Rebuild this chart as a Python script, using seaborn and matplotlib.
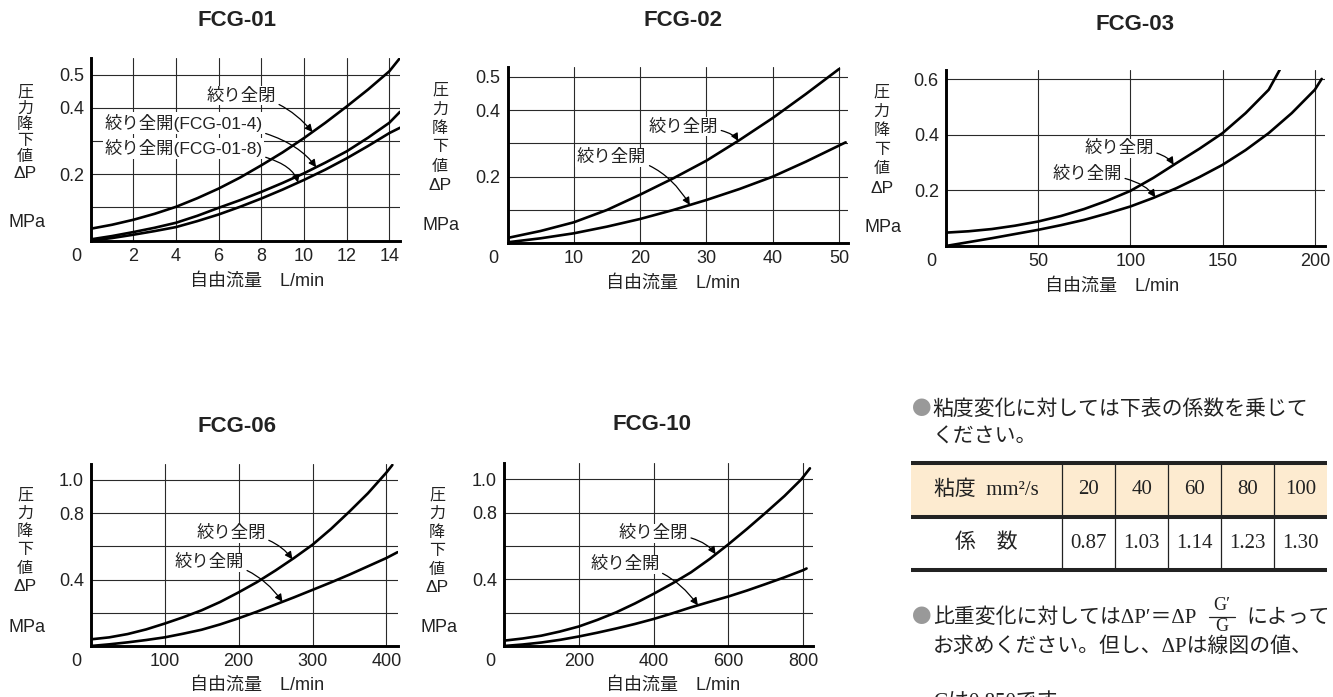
import matplotlib
matplotlib.use("Agg")
import matplotlib.pyplot as plt
import seaborn as sns
from matplotlib.patches import Rectangle
from matplotlib.lines import Line2D

# ---------------- data ----------------
# FCG-01  (flow L/min, pressure drop MPa)
fcg01_flow = [0, 1, 2, 3, 4, 5, 6, 7, 8, 9, 10, 11, 12, 13, 14, 14.5]
fcg01_closed = [0.036, 0.048, 0.063, 0.081, 0.102, 0.128, 0.157, 0.190, 0.227,
                0.266, 0.309, 0.355, 0.404, 0.455, 0.510, 0.550]
fcg01_open4 = [0.004, 0.014, 0.026, 0.039, 0.054, 0.075, 0.099, 0.122, 0.147,
               0.174, 0.203, 0.235, 0.269, 0.310, 0.355, 0.388]
fcg01_open8 = [0.000, 0.008, 0.018, 0.029, 0.041, 0.059, 0.079, 0.102, 0.127,
               0.154, 0.183, 0.214, 0.248, 0.285, 0.324, 0.340]
fcg01_xticks = [2, 4, 6, 8, 10, 12, 14]
fcg01_yticks = [0.1, 0.2, 0.3, 0.4, 0.5]
fcg01_ylabels = ["", "0.2", "", "0.4", "0.5"]

# FCG-02
fcg02_flow_closed = [0, 5, 10, 15, 20, 25, 30, 35, 40, 45, 50]
fcg02_closed = [0.016, 0.037, 0.063, 0.100, 0.146, 0.195, 0.248, 0.310, 0.376, 0.448, 0.523]
fcg02_flow_open = [0, 5, 10, 15, 20, 25, 30, 35, 40, 45, 51]
fcg02_open = [0.003, 0.015, 0.030, 0.050, 0.073, 0.100, 0.130, 0.163, 0.200, 0.245, 0.303]
fcg02_xticks = [10, 20, 30, 40, 50]
fcg02_yticks = [0.1, 0.2, 0.3, 0.4, 0.5]
fcg02_ylabels = ["", "0.2", "", "0.4", "0.5"]

# FCG-03
fcg03_flow_closed = [0, 12.5, 25, 37.5, 50, 62.5, 75, 87.5, 100, 112.5, 125,
                     137.5, 150, 162.5, 175, 181]
fcg03_closed = [0.048, 0.053, 0.061, 0.073, 0.088, 0.108, 0.133, 0.163, 0.198,
                0.245, 0.298, 0.350, 0.406, 0.478, 0.562, 0.634]
fcg03_flow_open = [0, 12.5, 25, 37.5, 50, 62.5, 75, 87.5, 100, 112.5, 125,
                   137.5, 150, 162.5, 175, 187.5, 200, 203.7]
fcg03_open = [0.000, 0.014, 0.028, 0.043, 0.058, 0.075, 0.094, 0.117, 0.142,
              0.173, 0.208, 0.248, 0.292, 0.345, 0.406, 0.478, 0.562, 0.601]
fcg03_xticks = [50, 100, 150, 200]
fcg03_yticks = [0.2, 0.4, 0.6]
fcg03_ylabels = ["0.2", "0.4", "0.6"]

# FCG-06
fcg06_flow_closed = [0, 25, 50, 75, 100, 125, 150, 175, 200, 225, 250, 275,
                     300, 325, 350, 375, 400, 408]
fcg06_closed = [0.040, 0.052, 0.072, 0.100, 0.135, 0.173, 0.215, 0.265, 0.323,
                0.385, 0.455, 0.530, 0.610, 0.705, 0.810, 0.920, 1.045, 1.090]
fcg06_flow_open = [0, 25, 50, 75, 100, 125, 150, 175, 200, 225, 250, 275,
                   300, 325, 350, 375, 400, 415]
fcg06_open = [0.000, 0.010, 0.022, 0.036, 0.052, 0.074, 0.098, 0.130, 0.167,
              0.207, 0.250, 0.293, 0.338, 0.383, 0.430, 0.480, 0.530, 0.565]
fcg06_xticks = [100, 200, 300, 400]
fcg06_yticks = [0.2, 0.4, 0.6, 0.8, 1.0]
fcg06_ylabels = ["", "0.4", "", "0.8", "1.0"]

# FCG-10
fcg10_flow_closed = [0, 50, 100, 150, 200, 250, 300, 350, 400, 450, 500, 550,
                     600, 650, 700, 750, 795, 818]
fcg10_closed = [0.032, 0.045, 0.062, 0.087, 0.117, 0.157, 0.202, 0.255, 0.313,
                0.375, 0.442, 0.522, 0.610, 0.703, 0.800, 0.900, 1.000, 1.066]
fcg10_flow_open = [0, 50, 100, 150, 200, 250, 300, 350, 400, 450, 500, 550,
                   600, 650, 700, 750, 800, 809]
fcg10_open = [0.000, 0.009, 0.021, 0.037, 0.057, 0.080, 0.105, 0.132, 0.162,
              0.196, 0.232, 0.265, 0.297, 0.333, 0.372, 0.412, 0.455, 0.465]
fcg10_xticks = [200, 400, 600, 800]
fcg10_yticks = [0.2, 0.4, 0.6, 0.8, 1.0]
fcg10_ylabels = ["", "0.4", "", "0.8", "1.0"]

# viscosity correction table
viscosity = ["20", "40", "60", "80", "100"]
coefficient = ["0.87", "1.03", "1.14", "1.23", "1.30"]

LBL_CLOSED = "絞り全閉"
LBL_OPEN = "絞り全開"

# ---------------- style ----------------
sns.set_style("white")
SANS = ["Liberation Sans", "Noto Sans CJK JP", "DejaVu Sans"]
JP = ["Noto Sans CJK JP", "Liberation Sans", "DejaVu Sans"]
SERIF = ["Liberation Serif", "Noto Sans CJK JP", "DejaVu Serif"]
plt.rcParams["font.family"] = SANS
plt.rcParams["axes.unicode_minus"] = False

W, H = 1333, 697
fig = plt.figure(figsize=(W / 100, H / 100), dpi=100)
fig.patch.set_facecolor("white")


def fx(x):
    return x / W


def fy(y):
    return 1 - y / H


panels = [
    dict(title="FCG-01", box=(90.7, 58, 400, 240.7), xlim=14.5, ylim=0.550,
         xticks=fcg01_xticks, yticks=fcg01_yticks, ylabels=fcg01_ylabels,
         series=[(fcg01_flow, fcg01_closed), (fcg01_flow, fcg01_open4), (fcg01_flow, fcg01_open8)],
         title_xy=(237, 20.7), xlabel_xy=(256.7, 281.7), ylab=(25, 91.7, 16.3),
         notes=[(LBL_CLOSED, (8.69, 0.437), (10.4, 0.327), -50),
                (LBL_OPEN + "(FCG-01-4)", (8.06, 0.355), (10.57, 0.221), -54),
                (LBL_OPEN + "(FCG-01-8)", (8.06, 0.278), (9.72, 0.175), -74)]),
    dict(title="FCG-02", box=(507.5, 66.7, 848.3, 243.3), xlim=51.4, ylim=0.530,
         xticks=fcg02_xticks, yticks=fcg02_yticks, ylabels=fcg02_ylabels,
         series=[(fcg02_flow_closed, fcg02_closed), (fcg02_flow_open, fcg02_open)],
         title_xy=(683.3, 20.7), xlabel_xy=(673.3, 283.3), ylab=(440, 90, 19),
         notes=[(LBL_CLOSED, (31.77, 0.350), (34.8, 0.307), -60),
                (LBL_OPEN, (20.96, 0.258), (27.5, 0.115), -59)]),
    dict(title="FCG-03", box=(945.7, 70, 1325, 246), xlim=205.5, ylim=0.633,
         xticks=fcg03_xticks, yticks=fcg03_yticks, ylabels=fcg03_ylabels,
         series=[(fcg03_flow_closed, fcg03_closed), (fcg03_flow_open, fcg03_open)],
         title_xy=(1135, 25), xlabel_xy=(1111.7, 286.7), ylab=(881.7, 91.7, 19.3),
         notes=[(LBL_CLOSED, (112.7, 0.351), (123.5, 0.292), -58),
                (LBL_OPEN, (95.5, 0.258), (113.6, 0.175), -55)]),
    dict(title="FCG-06", box=(90.7, 464, 398.3, 646), xlim=416, ylim=1.096,
         xticks=fcg06_xticks, yticks=fcg06_yticks, ylabels=fcg06_ylabels,
         series=[(fcg06_flow_closed, fcg06_closed), (fcg06_flow_open, fcg06_open)],
         title_xy=(236.7, 426.7), xlabel_xy=(256.7, 685), ylab=(25, 495, 18.3),
         notes=[(LBL_CLOSED, (236.8, 0.679), (272.8, 0.522), -54),
                (LBL_OPEN, (207.4, 0.504), (259.3, 0.266), -55)]),
    dict(title="FCG-10", box=(504, 463.3, 813.3, 646), xlim=827, ylim=1.096,
         xticks=fcg10_xticks, yticks=fcg10_yticks, ylabels=fcg10_ylabels,
         series=[(fcg10_flow_closed, fcg10_closed), (fcg10_flow_open, fcg10_open)],
         title_xy=(651.7, 425), xlabel_xy=(673.3, 685), ylab=(437, 495, 18.6),
         notes=[(LBL_CLOSED, (491.8, 0.676), (565.8, 0.550), -56),
                (LBL_OPEN, (416, 0.49), (518.5, 0.244), -54)]),
]

for p in panels:
    l, t, r, b = p["box"]
    ax = fig.add_axes([fx(l), fy(b), (r - l) / W, (b - t) / H])
    for xs, ys in p["series"]:
        sns.lineplot(x=xs, y=ys, ax=ax, color="black", linewidth=1.9,
                     sort=False, estimator=None, zorder=3)
    ax.set_xlim(0, p["xlim"])
    ax.set_ylim(0, p["ylim"])
    ax.set_xticks(p["xticks"])
    ax.set_xticklabels([str(v) for v in p["xticks"]])
    ax.set_yticks(p["yticks"])
    ax.set_yticklabels(p["ylabels"])
    ax.grid(True, color="#2a2a2a", linewidth=0.8)
    ax.set_axisbelow(True)
    ax.tick_params(length=0, labelsize=13, pad=5, colors="#222222")
    for s in ["top", "right"]:
        ax.spines[s].set_visible(False)
    for s in ["left", "bottom"]:
        ax.spines[s].set_linewidth(2.1)
        ax.spines[s].set_color("black")
        ax.spines[s].set_zorder(4)
    ax.set_xlabel("")
    ax.set_ylabel("")
    # origin label
    ax.annotate("0", xy=(0, 0), xycoords="axes fraction", xytext=(-10, -5),
                textcoords="offset points", ha="center", va="top", fontsize=13,
                color="#222222")
    # curve annotations
    for label, txy, tip, angB in p["notes"]:
        ax.annotate(label, xy=tip, xytext=txy, ha="right", va="center",
                    fontsize=12.5, color="#222222", zorder=5,
                    bbox=dict(boxstyle="square,pad=0.1", fc="white", ec="none"),
                    arrowprops=dict(arrowstyle="-|>", color="black", lw=0.9,
                                    mutation_scale=11, shrinkA=1, shrinkB=0,
                                    connectionstyle=f"angle3,angleA=0,angleB={angB}"))
    # titles and axis labels
    fig.text(fx(p["title_xy"][0]), fy(p["title_xy"][1]), p["title"], ha="center",
             va="center", fontsize=16, fontweight="bold", color="#222222")
    fig.text(fx(p["xlabel_xy"][0]), fy(p["xlabel_xy"][1]), "自由流量　L/min",
             ha="center", va="center", fontsize=13, color="#222222")
    yx, y0, dy = p["ylab"]
    for i, ch in enumerate(["圧", "力", "降", "下", "値"]):
        fig.text(fx(yx), fy(y0 + i * dy), ch, ha="center", va="center",
                 fontsize=11.5, family=JP, color="#222222")
    fig.text(fx(yx), fy(y0 + 5 * dy), "ΔP", ha="center", va="center",
             fontsize=12.5, color="#222222")
    fig.text(fx(yx + 1.5), fy(b - 18), "MPa", ha="center", va="center",
             fontsize=13, color="#222222")

# ---------------- right-hand notes and table ----------------
BULLET_X = 921.7
TEXT_X = 932.7
TXT = "#222222"


def bullet(y):
    fig.text(fx(BULLET_X), fy(y), "●", ha="center", va="center", fontsize=14,
             family=JP, color="#999999")


bullet(410)
fig.text(fx(TEXT_X), fy(410), "粘度変化に対しては下表の係数を乗じて", ha="left",
         va="center", fontsize=15, family=SERIF, color=TXT)
fig.text(fx(TEXT_X), fy(438), "ください。", ha="left", va="center", fontsize=15,
         family=SERIF, color=TXT)

tl, tr, tt, tm, tb = 911, 1327, 463.3, 516.7, 570
col_edges = [911, 1062.3, 1115.3, 1168.3, 1221.3, 1274.3, 1327]
tab = fig.add_axes([fx(tl), fy(tb), (tr - tl) / W, (tb - tt) / H])
tab.set_xlim(tl, tr)
tab.set_ylim(tb, tt)
tab.axis("off")
tab.add_patch(Rectangle((tl, tt), tr - tl, tm - tt, fc="#fdebd0", ec="none", zorder=1))
for yy in (tt, tm, tb):
    tab.add_line(Line2D([tl, tr], [yy, yy], color="#222222", lw=2.9, zorder=3,
                        clip_on=False, solid_capstyle="butt"))
for xx in col_edges[1:-1]:
    tab.add_line(Line2D([xx, xx], [tt, tb], color="#222222", lw=0.9, zorder=2,
                        clip_on=False))
hy, dyr = (tt + tm) / 2, (tm + tb) / 2
tab.text((col_edges[0] + col_edges[1]) / 2, hy, "粘度  mm²/s", ha="center",
         va="center", fontsize=15, family=SERIF, color=TXT)
tab.text((col_edges[0] + col_edges[1]) / 2, dyr, "係　数", ha="center",
         va="center", fontsize=15, family=SERIF, color=TXT)
for i, (v, c) in enumerate(zip(viscosity, coefficient)):
    cx = (col_edges[i + 1] + col_edges[i + 2]) / 2
    tab.text(cx, hy, v, ha="center", va="center", fontsize=15, family=SERIF, color=TXT)
    tab.text(cx, dyr, c, ha="center", va="center", fontsize=15, family=SERIF, color=TXT)

bullet(618)
fig.text(fx(TEXT_X), fy(618), "比重変化に対してはΔP′＝ΔP", ha="left", va="center",
         fontsize=15, family=SERIF, color=TXT)
fig.text(fx(1222), fy(605), "G′", ha="center", va="center", fontsize=13,
         family=SERIF, color=TXT)
fig.add_artist(Line2D([fx(1209), fx(1235)], [fy(616.7), fy(616.7)], color=TXT, lw=0.9))
fig.text(fx(1222), fy(626.5), "G", ha="center", va="center", fontsize=13,
         family=SERIF, color=TXT)
fig.text(fx(1246.7), fy(618), "によって", ha="left", va="center", fontsize=15,
         family=SERIF, color=TXT)
fig.text(fx(TEXT_X), fy(647), "お求めください。但し、ΔPは線図の値、", ha="left",
         va="center", fontsize=15, family=SERIF, color=TXT)
fig.text(fx(TEXT_X), fy(703), "Gは0.850です。", ha="left", va="center",
         fontsize=15, family=SERIF, color=TXT)

fig.savefig("out.png", dpi=100, facecolor="white")
